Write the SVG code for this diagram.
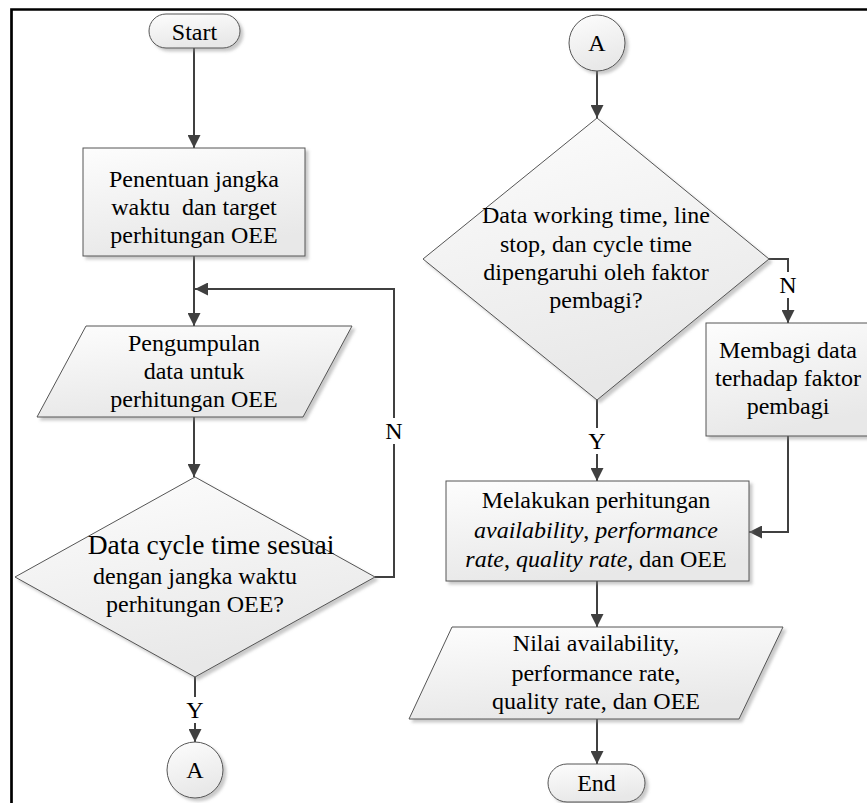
<svg xmlns="http://www.w3.org/2000/svg" width="867" height="803" viewBox="0 0 867 803">
<style>
.shape{fill:url(#g);stroke:#555;stroke-width:1;filter:url(#sh)}
.t{font-family:"Liberation Serif","Times New Roman",serif;font-size:24px;fill:#000;text-anchor:middle}
.c{fill:none;stroke:#404040;stroke-width:2}
.lbl{fill:#fff;stroke:none}
</style>
<defs>
<linearGradient id="g" x1="0" y1="0" x2="0.3" y2="1">
<stop offset="0" stop-color="#fdfdfd"/>
<stop offset="1" stop-color="#e8e8e8"/>
</linearGradient>
<filter id="sh" x="-10%" y="-10%" width="130%" height="130%">
<feDropShadow dx="3" dy="3" stdDeviation="1.5" flood-color="#888" flood-opacity="0.45"/>
</filter>
<marker id="ar" markerUnits="userSpaceOnUse" markerWidth="13" markerHeight="13" refX="13" refY="6.5" orient="auto">
<path d="M0,0 L13,6.5 L0,13 z" fill="#404040"/>
</marker>
</defs>
<rect width="867" height="803" fill="#fff"/>
<path d="M11.5,803 V9.5 H867" fill="none" stroke="#000" stroke-width="2.7"/>

<g id="connectors">
<path class="c" d="M194,48 V148" marker-end="url(#ar)"/>
<path class="c" d="M194,256 V326" marker-end="url(#ar)"/>
<path class="c" d="M194,417 V477" marker-end="url(#ar)"/>
<path class="c" d="M375,577 H394 V289 H195" marker-end="url(#ar)"/>
<rect class="lbl" x="384" y="418" width="20" height="26"/>
<text class="t" x="394" y="439">N</text>
<path class="c" d="M195,677 V742" marker-end="url(#ar)"/>
<rect class="lbl" x="185" y="697" width="20" height="26"/>
<text class="t" x="195" y="718">Y</text>
<path class="c" d="M597,71 V118" marker-end="url(#ar)"/>
<path class="c" d="M769,259 H788 V323" marker-end="url(#ar)"/>
<rect class="lbl" x="778" y="272" width="20" height="26"/>
<text class="t" x="788" y="293">N</text>
<path class="c" d="M597,400 V481" marker-end="url(#ar)"/>
<rect class="lbl" x="587" y="428" width="20" height="26"/>
<text class="t" x="597" y="449">Y</text>
<path class="c" d="M788,436 V532 H749" marker-end="url(#ar)"/>
<path class="c" d="M597,581 V627" marker-end="url(#ar)"/>
<path class="c" d="M597,719 V764" marker-end="url(#ar)"/>
</g>

<g id="start">
<rect class="shape" x="149" y="14" width="91" height="34" rx="17"/>
<text class="t" x="194.5" y="40">Start</text>
</g>
<g id="penentuan">
<rect class="shape" x="83" y="148" width="222" height="108"/>
<text class="t" x="194" y="187">Penentuan jangka</text>
<text class="t" x="194" y="215" xml:space="preserve">waktu  dan target</text>
<text class="t" x="194" y="243">perhitungan OEE</text>
</g>
<g id="pengumpulan">
<polygon class="shape" points="86,326 352,326 303,417 37,417"/>
<text class="t" x="194" y="351">Pengumpulan</text>
<text class="t" x="194" y="379">data untuk</text>
<text class="t" x="194" y="407">perhitungan OEE</text>
</g>
<g id="decision1">
<polygon class="shape" points="195,477 375,577 195,677 15,577"/>
<text class="t" x="211" y="554" style="font-size:27.5px">Data cycle time sesuai</text>
<text class="t" x="195" y="584">dengan jangka waktu</text>
<text class="t" x="195" y="612">perhitungan OEE?</text>
</g>
<g id="connectorA1">
<circle class="shape" cx="195" cy="770" r="28"/>
<text class="t" x="195" y="778">A</text>
</g>
<g id="connectorA2">
<circle class="shape" cx="597" cy="43" r="28"/>
<text class="t" x="597" y="51">A</text>
</g>
<g id="decision2">
<polygon class="shape" points="597,118 769,259 597,400 423,259"/>
<text class="t" x="596" y="223">Data working time, line</text>
<text class="t" x="596" y="252">stop, dan cycle time</text>
<text class="t" x="596" y="280">dipengaruhi oleh faktor</text>
<text class="t" x="596" y="308">pembagi?</text>
</g>
<g id="membagi">
<rect class="shape" x="706" y="323" width="164" height="113"/>
<text class="t" x="788" y="358">Membagi data</text>
<text class="t" x="788" y="386">terhadap faktor</text>
<text class="t" x="788" y="414">pembagi</text>
</g>
<g id="melakukan">
<rect class="shape" x="446" y="481" width="303" height="100"/>
<text class="t" x="596" y="508">Melakukan perhitungan</text>
<text class="t" x="596" y="538"><tspan font-style="italic">availability</tspan>, <tspan font-style="italic">performance</tspan></text>
<text class="t" x="596" y="567"><tspan font-style="italic">rate</tspan>, <tspan font-style="italic">quality rate</tspan>, dan OEE</text>
</g>
<g id="nilai">
<polygon class="shape" points="452,627 783,627 739,719 409,719"/>
<text class="t" x="596" y="651">Nilai availability,</text>
<text class="t" x="596" y="681">performance rate,</text>
<text class="t" x="596" y="709">quality rate, dan OEE</text>
</g>
<g id="end">
<rect class="shape" x="548" y="764" width="97" height="38" rx="19"/>
<text class="t" x="596.5" y="791">End</text>
</g>
</svg>
